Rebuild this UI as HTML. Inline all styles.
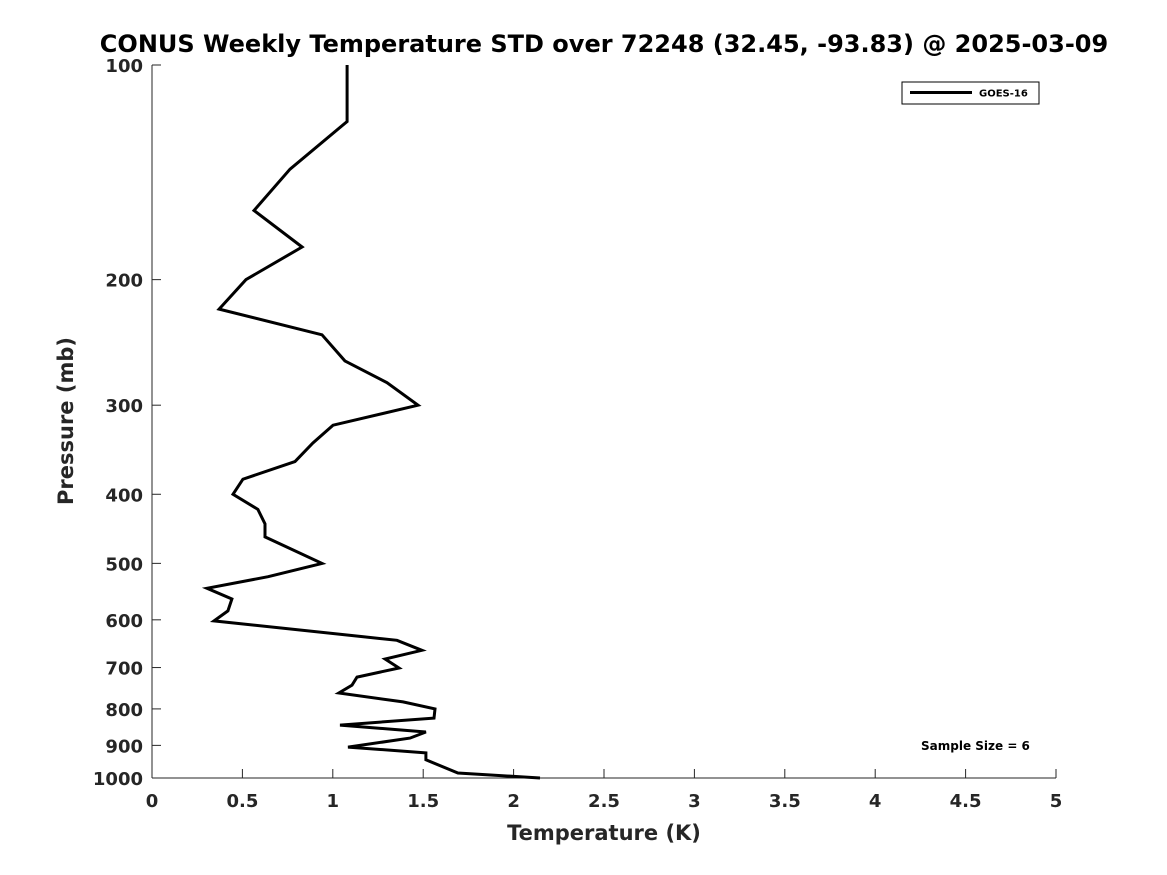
<!DOCTYPE html>
<html><head><meta charset="utf-8"><style>
body{margin:0;background:#fff;}
svg{display:block;font-family:"DejaVu Sans","Liberation Sans",sans-serif;}
</style></head><body>
<svg id="chart" width="1167" height="875">
<text x="604" y="52" text-anchor="middle" font-size="24" font-weight="bold">CONUS Weekly Temperature STD over 72248 (32.45, -93.83) @ 2025-03-09</text>
<text x="604" y="840" text-anchor="middle" font-size="21" font-weight="bold" fill="#262626">Temperature (K)</text>
<text transform="translate(73,421) rotate(-90)" text-anchor="middle" font-size="21" font-weight="bold" fill="#262626">Pressure (mb)</text>
<g id="axes"></g>
<g id="series"></g>
<rect x="902" y="82" width="137" height="22" fill="#fff" stroke="#000" stroke-width="1"/>
<line x1="910" y1="92.5" x2="972" y2="92.5" stroke="#000" stroke-width="3"/>
<text x="979" y="96.5" font-size="10" font-weight="bold">GOES-16</text>
<text x="921" y="750" font-size="12" font-weight="bold">Sample Size = 6</text>
</svg>
<script>
const temps = [1.079,1.079,0.763,0.564,0.830,0.520,0.371,0.940,1.067,1.300,1.471,1.001,0.890,0.791,0.503,0.448,0.586,0.625,0.625,0.940,0.642,0.304,0.442,0.420,0.343,1.355,1.493,1.289,1.366,1.134,1.106,1.034,1.388,1.565,1.560,1.040,1.515,1.427,1.084,1.515,1.515,1.692,2.146];
const pressures = [100,120,140,160,180,200,220,239,260,279,300,320,339,360,381,400,420,440,459,500,522,542,561,583,602,641,662,681,701,722,741,760,782,800,824,843,862,879,905,922,943,984,1000];
const xTicks = [0,0.5,1,1.5,2,2.5,3,3.5,4,4.5,5];
const xTickLabels = ["0","0.5","1","1.5","2","2.5","3","3.5","4","4.5","5"];
const yTicks = [100,200,300,400,500,600,700,800,900,1000];
const yTickLabels = ["100","200","300","400","500","600","700","800","900","1000"];

const X0=152,X1=1056,Y0=65,Y1=778;
const xs = v => X0 + (v-0)/(5-0)*(X1-X0);
const ys = p => Y0 + (Math.log10(p)-2)/(3-2)*(Y1-Y0);
const NS="http://www.w3.org/2000/svg";
const axes=document.getElementById('axes');
function mk(tag,attrs,parent){const e=document.createElementNS(NS,tag);for(const k in attrs)e.setAttribute(k,attrs[k]);parent.appendChild(e);return e;}
const xa=mk('line',{x1:X0,y1:Y1,x2:X1,y2:Y1,stroke:'#262626','stroke-width':1},axes);


const ya=mk('line',{x1:X0,y1:Y0,x2:X0,y2:Y1,stroke:'#262626','stroke-width':1},axes);


xTicks.forEach((t,i)=>{
  const x=xs(t);
  const tk=mk('line',{x1:x,y1:Y1,x2:x,y2:Y1-9,stroke:'#262626','stroke-width':1},axes);
  
  
  const tl=mk('text',{x:x,y:807,'text-anchor':'middle','font-size':18,'font-weight':'bold',fill:'#262626'},axes);
  tl.textContent=xTickLabels[i];
  
  
});
yTicks.forEach((t,i)=>{
  const y=ys(t);
  const tk=mk('line',{x1:X0,y1:y,x2:X0+9,y2:y,stroke:'#262626','stroke-width':1},axes);
  
  
  const tl=mk('text',{x:143,y:y+7,'text-anchor':'end','font-size':18,'font-weight':'bold',fill:'#262626'},axes);
  tl.textContent=yTickLabels[i];
  
  
});
const pts=temps.map((t,i)=>xs(t).toFixed(1)+','+ys(pressures[i]).toFixed(1)).join(' ');
const line=mk('polyline',{points:pts,fill:'none',stroke:'#000','stroke-width':3,'stroke-linejoin':'miter'},document.getElementById('series'));


</script>
</body></html>
